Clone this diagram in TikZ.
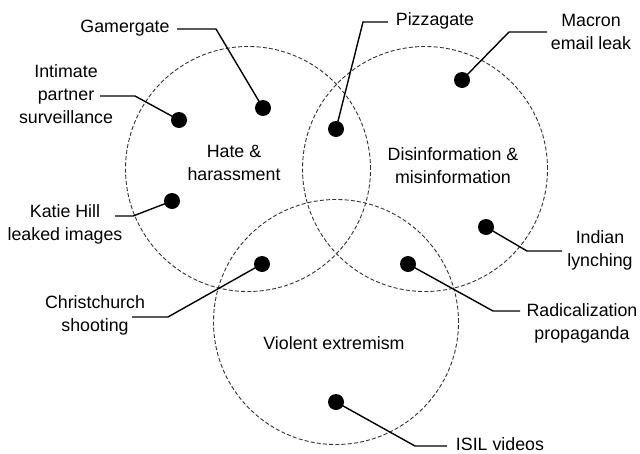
\documentclass[tikz,border=0pt]{standalone}
\usepackage{fontspec}
\setmainfont{Liberation Sans}
\begin{document}
\begin{tikzpicture}[x=1pt,y=-1pt,
  ring/.style={draw=black!80, line width=0.9pt, dash pattern=on 4pt off 2.2pt},
  dot/.style={circle, fill=black, inner sep=0pt, minimum size=16pt},
  lbl/.style={align=center, font=\fontsize{17.8}{23}\selectfont, inner sep=0pt},
  lead/.style={draw=black, line width=1.4pt}]
\useasboundingbox (0,0) rectangle (640,453);
\fill[white] (0,0) rectangle (640,453);
% circles
\node[ring, circle, minimum size=245pt, inner sep=0pt] (hate) at (248,169) {};
\node[ring, circle, minimum size=245pt, inner sep=0pt] (dis) at (425,169) {};
\node[ring, circle, minimum size=245pt, inner sep=0pt] (vio) at (336,322) {};
% circle labels
\node[lbl] (hatelbl) at (234,163) {Hate \&\\harassment};
\node[lbl] (dislbl) at (453,166) {Disinformation \&\\misinformation};
\node[lbl] (violbl) at (334,343) {Violent extremism};
% dots
\node[dot] (dgamer) at (263,108) {};
\node[dot] (dipv) at (179,120) {};
\node[dot] (dkatie) at (172,201) {};
\node[dot] (dchrist) at (262,264) {};
\node[dot] (dpizza) at (336,129) {};
\node[dot] (dmacron) at (462,80) {};
\node[dot] (dindian) at (486,227) {};
\node[dot] (dradical) at (408,264) {};
\node[dot] (disil) at (336,402) {};
% labels
\node[lbl] (tgamer) at (125,28) {Gamergate};
\node[lbl] (tipv) at (66,94) {Intimate\\partner\\surveillance};
\node[lbl] (tkatie) at (65,224) {Katie Hill\\leaked images};
\node[lbl] (tchrist) at (95,315) {Christchurch\\shooting};
\node[lbl] (tpizza) at (435,21) {Pizzagate};
\node[lbl] (tmacron) at (591,32) {Macron\\email leak};
\node[lbl] (tindian) at (600,250) {Indian\\lynching};
\node[lbl] (tradical) at (582,323) {Radicalization\\propaganda};
\node[lbl] (tisil) at (500,444) {ISIL videos};
% leader ends
\coordinate (egamer) at (177,29);
\coordinate (eipv) at (100,96);
\coordinate (ekatie) at (115,216);
\coordinate (echrist) at (132,317);
\coordinate (epizza) at (388,22);
\coordinate (emacron) at (547,32);
\coordinate (eindian) at (562,251);
\coordinate (eradical) at (520,311);
\coordinate (eisil) at (447,446);
% leaders
\draw[lead] (dgamer.center) -- (216,29) -- (egamer);
\draw[lead] (dipv.center) -- (135,96) -- (eipv);
\draw[lead] (dkatie.center) -- (133,216) -- (ekatie);
\draw[lead] (dchrist.center) -- (168,317) -- (echrist);
\draw[lead] (dpizza.center) -- (363,22) -- (epizza);
\draw[lead] (dmacron.center) -- (509,32) -- (emacron);
\draw[lead] (dindian.center) -- (527,251) -- (eindian);
\draw[lead] (dradical.center) -- (493,311) -- (eradical);
\draw[lead] (disil.center) -- (415,446) -- (eisil);
\end{tikzpicture}
\end{document}
